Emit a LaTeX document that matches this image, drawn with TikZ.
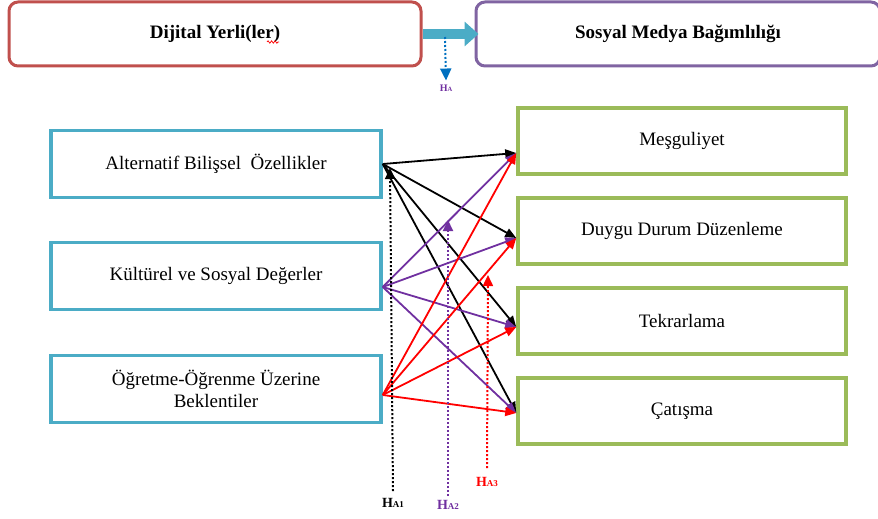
\documentclass[tikz,border=0pt]{standalone}
\usepackage{fontspec}
\setmainfont{Liberation Serif}
\usetikzlibrary{arrows.meta,decorations.pathmorphing}
\definecolor{kirmizi}{HTML}{C0504D}
\definecolor{mor}{HTML}{8064A2}
\definecolor{turkuaz}{HTML}{4BACC6}
\definecolor{yesil}{HTML}{9BBB59}
\definecolor{koyumor}{HTML}{7030A0}
\definecolor{mavi}{HTML}{0070C0}
\newcommand{\hlabel}[1]{H{\fontsize{9}{9}\selectfont #1}}
\tikzset{top box/.style={draw,rounded corners=9pt,line width=3pt,minimum height=64pt,font=\fontsize{19}{22}\selectfont\bfseries},
  left box/.style={draw=turkuaz,line width=3.5pt,minimum width=330pt,minimum height=67pt,align=center,font=\fontsize{19}{22}\selectfont},
  right box/.style={draw=yesil,line width=3.5pt,minimum width=328pt,minimum height=66pt,font=\fontsize{19}{22}\selectfont},
  link/.style={line width=1.8pt,-{Triangle[length=11pt,width=9pt]}},
  hyp/.style={line width=2pt,dotted,-{Triangle[length=11pt,width=10pt]}},
  hyp label/.style={inner sep=1pt,font=\fontsize{14}{14}\selectfont\bfseries}}

\begin{document}
\begin{tikzpicture}[x=1pt,y=-1pt]
  \useasboundingbox (0,0) rectangle (878,519);

  \node[top box,draw=kirmizi,minimum width=412pt] (dijital) at (215,34) {Dijital Yerli(ler)};
  \node[top box,draw=mor,minimum width=404pt] (sosyal) at (678,34) {Sosyal Medya Bağımlılığı};
  \draw[red,line width=0.7pt,decorate,decoration={snake,amplitude=1.2pt,segment length=3.5pt}] (267,42) -- (279,42);
  \draw[turkuaz,line width=10pt,-{Triangle[length=14pt,width=24pt]}] (dijital.east) -- ([xshift=4pt]sosyal.west);

  \node[hyp label,text=koyumor,font=\fontsize{10}{10}\selectfont\bfseries] (hA) at (446,88) {H{\fontsize{6.5}{6.5}\selectfont A}};
  \coordinate (hAtop) at (445,37);
  \draw[hyp,mavi,-{Triangle[length=12pt,width=11pt]}] (hAtop) -- ([yshift=3pt]hA.north);

  \node[left box] (bilissel) at (216,164) {Alternatif Bilişsel\ \ Özellikler};
  \node[left box] (kultur) at (216,276) {Kültürel ve Sosyal Değerler};
  \node[left box] (ogretme) at (216,389) {Öğretme-Öğrenme Üzerine\\Beklentiler};

  \node[right box] (mesguliyet) at (682,141) {Meşguliyet};
  \node[right box] (duygu) at (682,231) {Duygu Durum Düzenleme};
  \node[right box] (tekrar) at (682,321) {Tekrarlama};
  \node[right box] (catisma) at (682,411) {Çatışma};

  \coordinate (s1) at (bilissel.east);
  \coordinate (s2) at ([yshift=-11pt]kultur.east);
  \coordinate (s3) at ([yshift=-6pt]ogretme.east);
  \coordinate (t1) at ([yshift=-12pt]mesguliyet.west);
  \coordinate (t2) at ([yshift=-7pt]duygu.west);
  \coordinate (t3) at ([yshift=-6pt]tekrar.west);
  \coordinate (t4) at ([yshift=-2pt]catisma.west);

  \draw[link] (s1) -- (t1);
  \draw[link] (s1) -- (t2);
  \draw[link] (s1) -- (t3);
  \draw[link] (s1) -- (t4);

  \draw[link,koyumor] (s2) -- (t1);
  \draw[link,koyumor] (s2) -- (t2);
  \draw[link,koyumor] (s2) -- (t3);
  \draw[link,koyumor] (s2) -- (t4);

  \draw[link,red] (s3) -- (t1);
  \draw[link,red] (s3) -- (t2);
  \draw[link,red] (s3) -- (t3);
  \draw[link,red] (s3) -- (t4);

  \node[hyp label] (hA1) at (393,503) {\hlabel{A1}};
  \node[hyp label,text=koyumor] (hA2) at (448,505) {\hlabel{A2}};
  \node[hyp label,text=red] (hA3) at (487,482) {\hlabel{A3}};
  \coordinate (h1top) at (390,168);
  \coordinate (h2top) at (448,220);
  \coordinate (h3top) at (488,275);
  \draw[hyp] ([yshift=6pt]hA1.north) -- (h1top);
  \draw[hyp,koyumor] ([yshift=3pt]hA2.north) -- (h2top);
  \draw[hyp,red] ([yshift=8pt]hA3.north) -- (h3top);
\end{tikzpicture}
\end{document}
